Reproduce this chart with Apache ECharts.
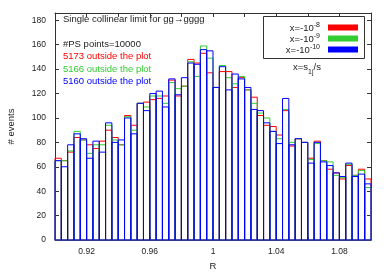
<!DOCTYPE html>
<html><head><meta charset="utf-8">
<script src="https://cdn.jsdelivr.net/npm/echarts@6/dist/echarts.min.js"></script>
<style>html,body{margin:0;padding:0;background:#fff}#c{width:389px;height:273px}</style>
</head><body><div id="c"></div>
<script>
// Histogram binning (R from 0.9 to 1.1, 50 bins)
const binStart = 0.9;
const binWidth = 0.004;
// Bin contents
const redCounts   = [67,65,72,84,82,78,75,81,90,84, 78,102,94,112,113,115,116,118,131,118, 126,148,145,153,137,125,138,138,125,133, 123,117,102,94,93,86,106,77,83,80, 67,81,65,58,55,50,61,53,58,50];
const greenCounts = [65,65,73,89,82,71,78,78,94,82, 78,101,90,112,109,118,118,112,129,124, 126,146,134,159,149,125,143,133,128,134, 123,112,104,100,89,83,107,80,83,80, 66,79,65,64,53,51,62,53,57,43];
const blueCounts  = [65,60,78,87,83,67,81,72,96,80, 82,100,87,112,106,120,122,109,132,119, 133,145,144,156,155,125,142,123,136,132, 125,107,106,96,89,79,116,78,83,80, 63,80,64,61,55,52,63,52,54,46];
const seriesNames = ['x=-10^-8', 'x=-10^-9', 'x=-10^-10'];
const seriesExp   = ['-8', '-9', '-10'];
const xLabelTicks = [0.92, 0.96, 1, 1.04, 1.08];
const annotLines  = ['#PS points=10000', '5173 outside the plot', '5166 outside the plot', '5160 outside the plot'];

const FONT = '"Liberation Sans", Arial, Helvetica, sans-serif';
const colors = ['#ff0000', '#33cc33', '#0000ff'];

function toData(counts) {
  return counts.map((v, i) => [binStart + i * binWidth, binStart + (i + 1) * binWidth, v]);
}
function renderBox(color) {
  return function (params, api) {
    const p0 = api.coord([api.value(0), api.value(2)]);
    const p1 = api.coord([api.value(1), 0]);
    return {
      type: 'rect',
      shape: { x: p0[0], y: p0[1], width: p1[0] - p0[0], height: p1[1] - p0[1] },
      style: { fill: 'none', stroke: color, lineWidth: 1 }
    };
  };
}
const allCounts = [redCounts, greenCounts, blueCounts];
const series = allCounts.map((c, k) => ({
  type: 'custom',
  name: seriesNames[k],
  renderItem: renderBox(colors[k]),
  encode: { x: [0, 1], y: 2 },
  itemStyle: { color: colors[k] },
  data: toData(c),
  z: 2 + k,
  silent: true
}));

const axisCommon = {
  axisLine: { show: true, onZero: false, lineStyle: { color: '#333', width: 1 } },
  axisTick: { show: true, inside: true, length: 4, lineStyle: { color: '#333' } },
  splitLine: { show: false }
};

const chart = echarts.init(document.getElementById('c'), null, { renderer: 'canvas' });
chart.setOption({
  animation: false,
  backgroundColor: '#fff',
  grid: { left: 55, right: 18, top: 13, bottom: 33, containLabel: false, outerBoundsMode: 'none' },
  xAxis: [
    Object.assign({
      type: 'value', min: 0.9, max: 1.1, interval: 0.02, position: 'bottom',
      name: 'R', nameLocation: 'middle', nameGap: 21,
      nameTextStyle: { fontFamily: FONT, fontSize: 9.5, color: '#222' },
      axisLabel: {
        fontFamily: FONT, fontSize: 8.5, color: '#222', margin: 7,
        formatter: v => xLabelTicks.some(t => Math.abs(t - v) < 1e-6) ? String(+v.toFixed(2)) : ''
      }
    }, axisCommon),
    Object.assign({
      type: 'value', min: 0.9, max: 1.1, interval: 0.02, position: 'top',
      axisLabel: { show: false }
    }, axisCommon)
  ],
  yAxis: [
    Object.assign({
      type: 'value', min: 0, max: 186, interval: 20, position: 'left',
      name: '# events', nameLocation: 'middle', nameGap: 39, nameRotate: 90,
      nameTextStyle: { fontFamily: FONT, fontSize: 9.5, color: '#222' },
      axisLabel: {
        fontFamily: FONT, fontSize: 8.5, color: '#222', margin: 9,
        formatter: v => (v % 20 === 0 ? String(v) : '')
      }
    }, axisCommon),
    Object.assign({
      type: 'value', min: 0, max: 186, interval: 20, position: 'right',
      axisLabel: { show: false }
    }, axisCommon)
  ],
  legend: {
    orient: 'vertical', align: 'right', right: 31, top: 21.5,
    itemWidth: 30, itemHeight: 6, itemGap: -1, icon: 'rect', selectedMode: false,
    padding: 0,
    data: seriesNames.map((n, k) => ({ name: n, itemStyle: { color: colors[k] } })),
    formatter: name => '{a|x=-10}{s|' + seriesExp[seriesNames.indexOf(name)] + '}{g|}',
    textStyle: {
      fontFamily: FONT, color: '#222',
      rich: {
        a: { fontFamily: FONT, fontSize: 9.5, color: '#222', verticalAlign: 'bottom', lineHeight: 12 },
        s: { fontFamily: FONT, fontSize: 7, color: '#222', verticalAlign: 'top', lineHeight: 12 },
        g: { width: 3 }
      }
    }
  },
  graphic: [
    { type: 'rect', shape: { x: 263.5, y: 16.5, width: 101, height: 42 },
      style: { fill: 'none', stroke: '#333', lineWidth: 1 }, z: 1 },
    { type: 'text', x: 307, y: 69, style: {
        text: '{a|x=s}{b|1j}{a|/s}', align: 'center', verticalAlign: 'middle',
        rich: { a: { fontFamily: FONT, fontSize: 9.5, fill: '#222', verticalAlign: 'top', lineHeight: 14 },
                b: { fontFamily: FONT, fontSize: 7, fill: '#222', verticalAlign: 'bottom', lineHeight: 14 } } } },
    { type: 'text', x: 63, y: 19, style: { text: 'Single collinear limit for gg\u2192gggg', font: '9.5px ' + FONT, fill: '#222', verticalAlign: 'middle' } },
    { type: 'text', x: 63, y: 44, style: { text: annotLines[0], font: '9.5px ' + FONT, fill: '#222', verticalAlign: 'middle' } },
    { type: 'text', x: 63, y: 56.5, style: { text: annotLines[1], font: '9.5px ' + FONT, fill: colors[0], verticalAlign: 'middle' } },
    { type: 'text', x: 63, y: 69, style: { text: annotLines[2], font: '9.5px ' + FONT, fill: colors[1], verticalAlign: 'middle' } },
    { type: 'text', x: 63, y: 81, style: { text: annotLines[3], font: '9.5px ' + FONT, fill: colors[2], verticalAlign: 'middle' } }
  ],
  series: series
});
</script></body></html>
